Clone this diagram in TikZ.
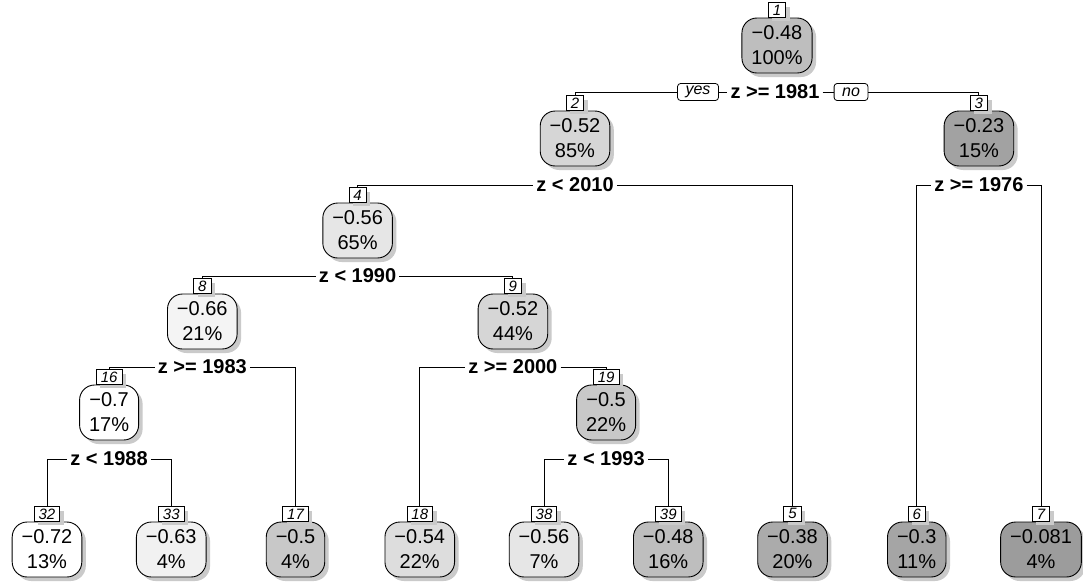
\documentclass[tikz,border=0pt]{standalone}
\usepackage{fontspec}
\setmainfont{Liberation Sans}
\usetikzlibrary{shadows,backgrounds}
\definecolor{c1}{HTML}{BEBEBE}
\definecolor{c2}{HTML}{D6D6D6}
\definecolor{c3}{HTML}{A2A2A2}
\definecolor{c4}{HTML}{E6E6E6}
\definecolor{c8}{HTML}{F4F4F4}
\definecolor{c17}{HTML}{C8C8C8}
\definecolor{c18}{HTML}{DDDDDD}
\definecolor{c33}{HTML}{F1F1F1}
\definecolor{c5}{HTML}{ABABAB}
\definecolor{c6}{HTML}{A5A5A5}
\definecolor{c7}{HTML}{9C9C9C}
\definecolor{shad}{HTML}{CACACA}
\tikzset{
  shd/.style={drop shadow={shadow xshift=4pt, shadow yshift=-4pt, fill=shad, opacity=1}},
  valbox/.style={draw, line width=0.9pt, rounded corners=15pt, align=center,
    font=\fontsize{20}{25}\selectfont, minimum height=55pt, inner ysep=0pt,
    inner xsep=9.5pt, shd},
  lblbox/.style={draw, fill=white, line width=0.8pt, anchor=south,
    font=\fontsize{15}{15}\selectfont\itshape, minimum height=14.5pt, minimum width=15pt,
    inner ysep=0pt, inner xsep=4.5pt, shd},
  splitlbl/.style={font=\fontsize{20}{20}\selectfont\bfseries, inner xsep=3pt, inner ysep=1pt},
  ynbox/.style={draw, fill=white, line width=0.8pt, rounded corners=3pt,
    font=\fontsize{16}{16}\selectfont\itshape, minimum height=17pt, inner ysep=0pt, inner xsep=8pt},
  conn/.style={line width=0.9pt}
}
\begin{document}
\begin{tikzpicture}[x=1pt,y=-1pt]
\useasboundingbox (0,0) rectangle (1083,582);
% ---- value boxes ----
\node[valbox, fill=c1]    (n1)  at (777,45.5)   {−0.48\\100\%};
\node[valbox, fill=c2]    (n2)  at (575,138.5)  {−0.52\\85\%};
\node[valbox, fill=c3]    (n3)  at (978.9,138.5){−0.23\\15\%};
\node[valbox, fill=c4]    (n4)  at (357.6,230.5){−0.56\\65\%};
\node[valbox, fill=c8]    (n8)  at (202.3,321.5){−0.66\\21\%};
\node[valbox, fill=c2]    (n9)  at (512.9,321.5){−0.52\\44\%};
\node[valbox, fill=white] (n16) at (109.1,412.5){−0.7\\17\%};
\node[valbox, fill=c17]   (n19) at (606.1,412.5){−0.5\\22\%};
\node[valbox, fill=white] (n32) at (47,549.5)   {−0.72\\13\%};
\node[valbox, fill=c33]   (n33) at (171.25,549.5){−0.63\\4\%};
\node[valbox, fill=c17]   (n17) at (295.5,549.5){−0.5\\4\%};
\node[valbox, fill=c18]   (n18) at (419.75,549.5){−0.54\\22\%};
\node[valbox, fill=c4]    (n38) at (544,549.5)  {−0.56\\7\%};
\node[valbox, fill=c1]    (n39) at (668.25,549.5){−0.48\\16\%};
\node[valbox, fill=c5]    (n5)  at (792.5,549.5){−0.38\\20\%};
\node[valbox, fill=c6]    (n6)  at (916.75,549.5){−0.3\\11\%};
\node[valbox, fill=c7]    (n7)  at (1041,549.5) {−0.081\\4\%};
% ---- number labels ----
\foreach \k in {1,2,3,4,8,9,16,19,32,33,17,18,38,39,5,6,7}{
  \node[lblbox] (l\k) at (n\k.north) {\k};
}
% ---- split labels ----
\node[splitlbl] (s1)  at (775,92)    {z >= 1981};
\node[ynbox]    (yes) at (698,92)    {yes};
\node[ynbox]    (no)  at (851,92)    {no};
\node[splitlbl] (s2)  at (575,185)   {z < 2010};
\node[splitlbl] (s3)  at (978.9,185) {z >= 1976};
\node[splitlbl] (s4)  at (357.6,276) {z < 1990};
\node[splitlbl] (s8)  at (202.3,367) {z >= 1983};
\node[splitlbl] (s9)  at (512.9,367) {z >= 2000};
\node[splitlbl] (s16) at (109.1,459) {z < 1988};
\node[splitlbl] (s19) at (606.1,459) {z < 1993};
% ---- connectors ----
\begin{scope}[on background layer]
\draw[conn] (l2.north) |- (yes.west);
\draw[conn] (yes.east) -- (s1.west);
\draw[conn] (s1.east) -- (no.west);
\draw[conn] (no.east) -| (l3.north);
\draw[conn] (l4.north) |- (s2.west);
\draw[conn] (s2.east) -| (l5.north);
\draw[conn] (l6.north) |- (s3.west);
\draw[conn] (s3.east) -| (l7.north);
\draw[conn] (l8.north) |- (s4.west);
\draw[conn] (s4.east) -| (l9.north);
\draw[conn] (l16.north) |- (s8.west);
\draw[conn] (s8.east) -| (l17.north);
\draw[conn] (l18.north) |- (s9.west);
\draw[conn] (s9.east) -| (l19.north);
\draw[conn] (l32.north) |- (s16.west);
\draw[conn] (s16.east) -| (l33.north);
\draw[conn] (l38.north) |- (s19.west);
\draw[conn] (s19.east) -| (l39.north);
\end{scope}
\end{tikzpicture}
\end{document}
